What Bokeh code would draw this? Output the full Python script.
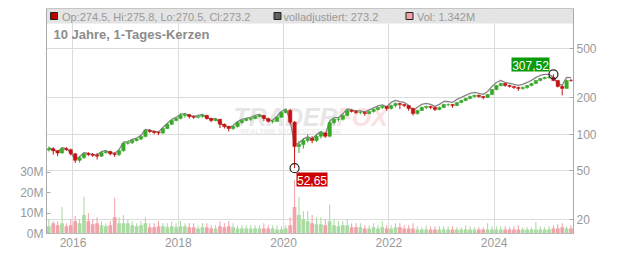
import math
import pandas as pd
from bokeh.plotting import figure
from bokeh.models import Range1d, LinearAxis, LinearScale, FixedTicker, BasicTickFormatter, ColumnDataSource
from bokeh.embed import file_html
from bokeh.resources import INLINE
from bokeh.core.properties import value

# ---------------- data (monthly candles, Jul 2015 .. Jun 2025) ----------------
first_month = "2015-07-01"
first_open = 74.0
closes = [
    76, 73, 70, 76, 74.5, 69,
    61, 64, 69, 68, 67, 66, 70.5, 72, 69, 68, 73, 84,
    85, 88.6, 91, 95.6, 107, 105, 103, 102, 111, 120, 129, 134,
    142, 144, 139, 137, 139, 142, 134, 129, 132, 120, 115, 111,
    115, 124, 129, 132, 134, 139, 142, 134, 127, 127, 137, 150,
    156, 125, 79, 82, 88.6, 92, 88.6, 96, 102, 96, 124, 132,
    132, 142, 156, 153, 150, 150, 147, 153, 159, 165, 168, 162,
    171, 178, 174, 171, 162, 147, 156, 165, 168, 165, 159, 165,
    174, 174, 171, 181, 188, 195, 203, 207, 203, 199, 210, 231,
    249, 259, 249, 245, 240, 236, 240, 249, 259, 274, 284, 290,
    290, 274, 245, 236, 274, 273.2,
]
highs = [
    79, 78, 74, 78, 78, 76,
    70, 66, 71, 71, 70, 70, 72, 74, 73, 71, 74, 85,
    87, 90, 93, 98, 109, 110, 107, 105, 112, 122, 130, 136,
    148, 148, 146, 142, 142, 145, 144, 136, 135, 133, 122, 117,
    117, 126, 131, 135, 137, 141, 146, 143, 136, 131, 139, 152,
    160, 160, 128, 88, 92, 100, 96, 99, 106, 104, 127, 135,
    137, 145, 158, 159, 156, 154, 153, 155, 161, 167, 172, 169,
    174, 181, 180, 177, 172, 164, 158, 168, 171, 170, 167, 168,
    177, 178, 176, 183, 191, 198, 206, 210, 210, 205, 213, 234,
    252, 263, 262, 253, 248, 244, 245, 252, 262, 277, 287, 294,
    298, 307.52, 276, 250, 277, 282,
]
lows = [
    72, 68, 66, 69, 73, 67,
    58, 58.5, 63, 66, 65, 62, 65, 69, 67, 65, 66, 72,
    82, 83, 87, 89, 94, 102, 100, 98, 100, 110, 118, 127,
    132, 136, 134, 133, 134, 136, 131, 125, 127, 112, 111, 105,
    108, 113, 121, 127, 128, 132, 137, 128, 124, 122, 126, 136,
    147, 120, 52.65, 70, 76, 85, 84, 86, 92, 93, 94, 120,
    127, 129, 140, 150, 146, 145, 141, 145, 150, 156, 160, 155,
    158, 165, 160, 166, 155, 142, 144, 154, 160, 160, 154, 156,
    163, 168, 164, 169, 179, 185, 192, 199, 198, 192, 197, 208,
    228, 245, 244, 240, 234, 225, 230, 234, 245, 256, 270, 280,
    283, 270, 240, 207, 234, 268,
]
adjusted = [
    77.5, 74.5, 71.4, 77.5, 76.0, 70.4,
    62.2, 65.3, 70.4, 69.4, 68.3, 67.3, 71.9, 73.4, 70.4, 69.4, 74.5, 85.7,
    86.7, 90.4, 92.8, 97.5, 109.1, 107.1, 105.1, 104.0, 113.2, 122.4, 131.6, 136.7,
    144.8, 146.9, 141.8, 139.7, 141.8, 144.8, 136.7, 131.6, 134.6, 122.4, 117.3, 113.2,
    117.3, 126.5, 131.6, 134.6, 136.7, 141.8, 144.8, 136.7, 129.5, 129.5, 139.7, 153.0,
    160.7, 128.8, 81.4, 84.5, 91.3, 94.8, 91.3, 98.9, 105.1, 98.9, 127.7, 136.0,
    136.0, 146.3, 160.7, 157.6, 154.5, 154.5, 151.4, 157.6, 163.8, 170.0, 173.0, 166.9,
    181.3, 188.7, 184.4, 181.3, 171.7, 155.8, 165.4, 174.9, 178.1, 174.9, 168.5, 174.9,
    184.4, 184.4, 181.3, 191.9, 199.3, 206.7, 215.2, 219.4, 215.2, 210.9, 222.6, 244.9,
    263.9, 274.5, 263.9, 259.7, 254.4, 250.2, 254.4, 263.9, 274.5, 290.4, 301.0, 307.4,
    307.4, 290.4, 259.7, 250.2, 290.4, 289.6,
]
vol_avg = [  # millions, typical daily volume per month
    3.5, 5, 4, 5, 3.5, 4,
    6, 5, 9, 6, 4.5, 5, 4, 3.5, 4, 8, 5, 5,
    5, 4, 3.5, 4, 5, 3, 3, 3.5, 3.5, 3, 3.5, 3,
    3.5, 3.5, 3, 3, 2.5, 3, 3, 2.5, 2.5, 3.5, 3, 3.5,
    3, 2.5, 2.5, 2.5, 2.5, 2.5, 2.5, 2.5, 2.5, 2.5, 2, 2,
    2.5, 4, 13, 9, 7, 6, 5, 4.5, 4.5, 4, 6, 4,
    3.5, 4, 4, 3, 3, 3, 2.5, 2.5, 3, 2.5, 3, 2.5,
    2.5, 3, 3, 2.5, 2.5, 2.5, 2, 2, 2, 2, 2, 2,
    2, 2, 2, 2, 2, 2, 2, 2, 2, 2, 2, 2,
    2, 2, 2, 2, 2, 2, 2, 2, 2, 2, 2, 2,
    2, 2.5, 2.5, 3, 2.5, 2.5,
]
vol_peak = [  # millions, largest daily volume per month
    7, 6, 6, 13, 5, 7,
    8.5, 7, 18, 10, 7, 8, 6, 5, 6, 17.5, 8, 9,
    7, 6, 5, 6, 8, 5, 5, 6, 5, 5, 6, 5,
    6, 5, 5, 5, 4, 5, 5, 4, 4, 6, 5, 6,
    5, 4, 4, 4, 4, 4, 4, 5, 4, 4, 4, 3.5,
    4, 8, 26, 18, 11, 11, 9, 8, 8, 7, 14, 7,
    6, 6, 7, 5, 5, 5, 4, 4, 5, 4, 6, 4,
    4, 5, 5, 4, 4, 5, 3.5, 3, 4, 3.5, 3.5, 3.5,
    3.5, 3.5, 3.5, 3, 3, 4, 3.5, 3, 3, 3, 5, 3.5,
    3.5, 3.5, 3.5, 3, 3.5, 4, 3, 3, 3, 5.5, 3.5, 3,
    3.5, 4, 4.5, 5, 3.5, 4,
]
year_ticks = [2016, 2018, 2020, 2022, 2024]
price_ticks = [20, 50, 100, 200, 500]
vol_ticks = [0, 10, 20, 30]
vol_labels = {0: "0M", 10: "10M", 20: "20M", 30: "30M"}
legend_ohlc = "Op:274.5, Hi:275.8, Lo:270.5, Cl:273.2"
legend_adj = "volladjustiert: 273.2"
legend_vol = "Vol: 1.342M"
subtitle = "10 Jahre, 1-Tages-Kerzen"
max_text = "307,52"
min_text = "52,65"

# ---------------- layout ----------------
W, H = 632, 253
FL, FT, FW, FH = 46, 8, 527, 225
X0, X1 = 2015.497, 2025.506
P_BOT, P_TOP = 15.4, 1061.0
V_TOP = 110.0
FONT = value("Liberation Sans")


def px_x(px):
    return X0 + (px - FL) / FW * (X1 - X0)


def px_y(py):
    lt, lb = math.log10(P_TOP), math.log10(P_BOT)
    return 10 ** (lt - (py - FT) / FH * (lt - lb))


months = pd.date_range(first_month, periods=len(closes), freq="MS")
xs = list(months.year + (months.month - 0.5) / 12.0)
opens = [first_open] + closes[:-1]
up = [c >= o for o, c in zip(opens, closes)]
RED, GREEN = "#c41212", "#3aa82a"
VRED, VGREEN = "#f2a3aa", "#aadba2"

src = ColumnDataSource(dict(
    x=xs, o=opens, h=highs, l=lows, c=closes,
    top=[max(o, c) for o, c in zip(opens, closes)],
    bot=[min(o, c) for o, c in zip(opens, closes)],
    col=[GREEN if u else RED for u in up],
    vcol=[VGREEN if u else VRED for u in up],
    va=vol_avg, vp=vol_peak, adj=adjusted,
))

p = figure(width=W, height=H, y_axis_type="log", y_axis_location="right",
           x_range=Range1d(X0, X1), y_range=Range1d(P_BOT, P_TOP),
           toolbar_location=None, output_backend="svg",
           min_border_left=FL, min_border_right=W - FL - FW,
           min_border_top=FT, min_border_bottom=H - FT - FH)
p.extra_y_ranges = {"vol": Range1d(0, V_TOP)}
p.extra_y_scales = {"vol": LinearScale()}
p.background_fill_color = "white"
p.border_fill_color = "white"
p.outline_line_color = "#bbbbbb"

price_axis = p.yaxis[0]
price_axis.ticker = FixedTicker(ticks=price_ticks)
price_axis.formatter = BasicTickFormatter()
p.ygrid.ticker = FixedTicker(ticks=price_ticks)
p.xaxis.ticker = FixedTicker(ticks=year_ticks)
p.xgrid.ticker = FixedTicker(ticks=year_ticks)
p.grid.grid_line_color = "#dcdcdc"

vax = LinearAxis(y_range_name="vol", ticker=FixedTicker(ticks=vol_ticks),
                 major_label_overrides=vol_labels)
p.add_layout(vax, "left")

for ax in [price_axis, vax]:
    ax.axis_line_color = "#aaaaaa"
    ax.major_tick_line_color = "#aaaaaa"
    ax.major_tick_in = 4
    ax.major_tick_out = 0
    ax.minor_tick_line_color = None
    ax.major_label_standoff = 3
for ax in [price_axis, vax, p.xaxis[0]]:
    ax.major_label_text_color = "#999999"
    ax.major_label_text_font = "Liberation Sans"
    ax.major_label_text_font_size = "12px"
p.xaxis.axis_line_color = "#bbbbbb"
p.xaxis.major_tick_in = 0
p.xaxis.major_tick_out = 0
p.xaxis.minor_tick_line_color = None
p.xaxis.major_label_standoff = 4

# watermark
p.text(x=[px_x(233)], y=[px_y(116)], text=["TRADER"], text_font=FONT,
       text_font_style="bold italic", text_font_size="25px", text_color="#e6e6e6",
       text_baseline="middle")
p.text(x=[px_x(336)], y=[px_y(116)], text=["FOX"], text_font=FONT,
       text_font_style="bold italic", text_font_size="25px", text_color="#fbe2e2",
       text_baseline="middle")
p.text(x=[px_x(240)], y=[px_y(131)], text=["REALTIME STOCKSCREENER"], text_font=FONT,
       text_font_style="bold", text_font_size="7px", text_color="#ececec",
       text_baseline="middle")

# volume
p.vbar(x="x", width=0.07, top="va", bottom=0, source=src, y_range_name="vol",
       fill_color="vcol", line_color=None)
p.vbar(x="x", width=0.02, top="vp", bottom=0, source=src, y_range_name="vol",
       fill_color="vcol", line_color=None)

# adjusted line
p.line(x="x", y="adj", source=src, line_color="#858585", line_width=1.3)

# candles
p.segment(x0="x", y0="h", x1="x", y1="l", source=src, line_color="col", line_width=1)
p.vbar(x="x", width=0.065, top="top", bottom="bot", source=src,
       fill_color="col", line_color="col", line_width=0.5)

# extremes
imax = max(range(len(highs)), key=lambda i: highs[i])
imin = min(range(len(lows)), key=lambda i: lows[i])
p.scatter(x=[xs[imax], xs[imin]], y=[highs[imax], lows[imin]], marker="circle",
          size=9, fill_color=None, line_color="#222222", line_width=1.2)
p.quad(left=[px_x(511)], right=[px_x(549)], bottom=[px_y(71)], top=[px_y(57)],
       fill_color="#0a9a0a", line_color=None)
p.text(x=[px_x(530)], y=[px_y(64.5)], text=[max_text], text_font=FONT,
       text_font_size="12px", text_color="white", text_align="center",
       text_baseline="middle")
p.quad(left=[px_x(296)], right=[px_x(327)], bottom=[px_y(186)], top=[px_y(172)],
       fill_color="#cc0000", line_color=None)
p.text(x=[px_x(311.5)], y=[px_y(179.5)], text=[min_text], text_font=FONT,
       text_font_size="12px", text_color="white", text_align="center",
       text_baseline="middle")

# legend bar
p.quad(left=[X0], right=[X1], bottom=[px_y(23)], top=[px_y(8)],
       fill_color="#e4e4e4", line_color=None)
p.scatter(x=[px_x(53.5), px_x(277), px_x(409)], y=[px_y(15.5)] * 3,
          marker="square", size=7,
          fill_color=["#c00000", "#606060", "#f2a3aa"], line_color="#222222",
          line_width=1)
p.text(x=[px_x(61.5), px_x(283), px_x(416.5)], y=[px_y(16)] * 3,
       text=[legend_ohlc, legend_adj, legend_vol], text_font=FONT,
       text_font_size="11px", text_color="#999999", text_baseline="middle")
p.text(x=[px_x(53)], y=[px_y(34)], text=[subtitle], text_font=FONT,
       text_font_style="bold", text_font_size="13px", text_color="#8c8c8c",
       text_baseline="middle")

open("out.html", "w").write(file_html(p, INLINE))
